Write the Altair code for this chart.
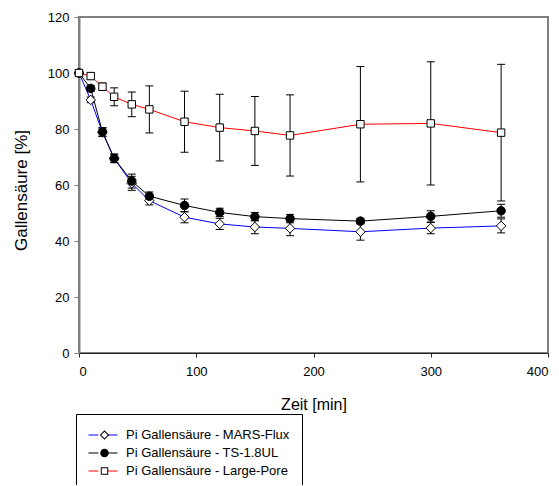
import altair as alt
import pandas as pd

times = [0, 10, 20, 30, 45, 60, 90, 120, 150, 180, 240, 300, 360]
series_names = [
    "Pi Gallensäure - MARS-Flux",
    "Pi Gallensäure - TS-1.8UL",
    "Pi Gallensäure - Large-Pore",
]
mars_vals = [100, 90.4, 78.8, 69.5, 60.6, 54.4, 48.5, 46.1, 45.0, 44.5, 43.3, 44.6, 45.4]
mars_err = [0, 1.0, 1.5, 1.5, 2.5, 1.5, 2.0, 2.0, 2.4, 2.6, 3.0, 2.0, 2.5]
ts_vals = [100, 94.5, 79.0, 69.5, 61.4, 56.0, 52.7, 50.2, 48.7, 48.0, 47.1, 48.8, 50.8]
ts_err = [0, 1.0, 1.5, 1.5, 2.5, 1.5, 2.3, 1.5, 1.5, 1.5, 1.0, 2.0, 2.3]
lp_vals = [100, 98.9, 95.1, 91.5, 88.8, 87.0, 82.6, 80.5, 79.3, 77.7, 81.7, 82.0, 78.7]
lp_err = [0, 1.2, 1.3, 3.2, 4.4, 8.4, 10.9, 11.9, 12.3, 14.5, 20.6, 22.0, 24.4]

line_colors = ["#0000ff", "#000000", "#ff0000"]
marker_keys = ["m0", "m1", "m2"]
marker_shapes = ["diamond", "circle", "square"]
marker_fills = ["#ffffff", "#000000", "#ffffff"]
marker_sizes = [90, 55, 60]

# legend-only symbols: outlined diamond, filled circle, outlined square
legend_keys = ["l0", "l1", "l2"]
legend_shapes = [
    "M0,-1L1,0L0,1L-1,0ZM0,-0.7L-0.7,0L0,0.7L0.7,0Z",
    "circle",
    "M-1,-1H1V1H-1ZM-0.74,-0.74V0.74H0.74V-0.74Z",
]
legend_fills = ["#000000", "#000000", "#000000"]

x_ticks = [0, 100, 200, 300, 400]
y_ticks = [0, 20, 40, 60, 80, 100, 120]

rows = []
for name, key, vals, errs in zip(series_names, marker_keys,
                                 [mars_vals, ts_vals, lp_vals],
                                 [mars_err, ts_err, lp_err]):
    for t, v, e in zip(times, vals, errs):
        rows.append({"series": name, "mk": key, "t": t, "v": v,
                     "lo": v - e, "hi": v + e, "e": e})
df = pd.DataFrame(rows)
err_df = df[df["e"] > 0]

leg_df = pd.DataFrame({
    "lg": legend_keys,
    "t": [times[0]] * 3,
    "v": [mars_vals[0], ts_vals[0], lp_vals[0]],
})

FONT = "Liberation Sans"
xscale = alt.Scale(domain=[0, 400], nice=False)
yscale = alt.Scale(domain=[0, 120], nice=False)

x_axis = alt.Axis(values=x_ticks, title="Zeit [min]", grid=False,
                  domainColor="#222222", domainWidth=1, tickColor="#222222",
                  tickSize=4, labelPadding=8, labelFontSize=13, labelFont=FONT,
                  labelColor="black", titleFont=FONT, titleFontSize=16,
                  titleFontWeight="normal", titleColor="black",
                  titleBaseline="middle", titleY=51)
y_axis = alt.Axis(values=y_ticks, title="Gallensäure [%]", grid=False,
                  domainColor="#808080", domainWidth=2, tickColor="#808080",
                  tickSize=5, labelPadding=5, labelFontSize=13, labelFont=FONT,
                  labelColor="black", titleFont=FONT, titleFontSize=17,
                  titleFontWeight="normal", titleColor="black",
                  titleAngle=270, titleBaseline="middle", titleAlign="center",
                  titleX=-58, titleY=173)

X = alt.X("t:Q", scale=xscale, axis=x_axis, title="Zeit [min]")


def Y(field):
    return alt.Y(field, scale=yscale, axis=y_axis, title="Gallensäure [%]")


rules = alt.Chart(err_df).mark_rule(color="black", strokeWidth=1).encode(
    x=X, y=Y("lo:Q"), y2="hi:Q",
)
cap_lo = alt.Chart(err_df).mark_tick(color="black", orient="horizontal",
                                     size=8, thickness=1, opacity=1).encode(
    x=X, y=Y("lo:Q"),
)
cap_hi = alt.Chart(err_df).mark_tick(color="black", orient="horizontal",
                                     size=8, thickness=1, opacity=1).encode(
    x=X, y=Y("hi:Q"),
)

lines = alt.Chart(df).mark_line(strokeWidth=1).encode(
    x=X, y=Y("v:Q"),
    stroke=alt.Stroke(
        "series:N",
        scale=alt.Scale(domain=series_names, range=line_colors),
        legend=alt.Legend(
            title=None, orient="none", legendX=-3, legendY=397,
            symbolType="M-1,0H-0.32M0.32,0H1", symbolSize=841,
            symbolStrokeWidth=1, clipHeight=18, rowPadding=0, padding=12,
            labelOffset=8, labelFontSize=13, labelFont=FONT, labelColor="black",
            labelLimit=0, strokeColor="black",
        ),
    ),
    order="t:Q",
)

points = alt.Chart(df).mark_point(stroke="black", strokeWidth=1, opacity=1).encode(
    x=X, y=Y("v:Q"),
    shape=alt.Shape("mk:N", scale=alt.Scale(domain=marker_keys, range=marker_shapes),
                    legend=None),
    fill=alt.Fill("mk:N", scale=alt.Scale(domain=marker_keys, range=marker_fills),
                  legend=None),
    size=alt.Size("mk:N", scale=alt.Scale(domain=marker_keys, range=marker_sizes),
                  legend=None),
)

lg_legend = alt.Legend(
    title=None, orient="none", legendX=7, legendY=397,
    symbolOpacity=1, symbolStrokeWidth=0, clipHeight=18, rowPadding=0,
    padding=12, labelFontSize=13, labelExpr="''",
)

legend_marks = alt.Chart(leg_df).mark_point(opacity=0, strokeWidth=0).encode(
    x=X, y=Y("v:Q"),
    shape=alt.Shape("lg:N", scale=alt.Scale(domain=legend_keys, range=legend_shapes),
                    legend=lg_legend),
    fill=alt.Fill("lg:N", scale=alt.Scale(domain=legend_keys, range=legend_fills),
                  legend=lg_legend),
    size=alt.Size("lg:N", scale=alt.Scale(domain=legend_keys, range=marker_sizes),
                  legend=lg_legend),
)

chart = alt.layer(rules, cap_lo, cap_hi, lines, points, legend_marks).resolve_scale(
    shape="independent", fill="independent", size="independent"
).properties(
    width=469, height=336,
    padding={"left": 79, "top": 17, "right": 11, "bottom": 132},
    autosize=alt.AutoSizeParams(type="none"),
    background="white",
).configure_view(stroke="#808080", strokeWidth=2)

chart.save("out.html", embed_options={"renderer": "svg", "actions": False})
